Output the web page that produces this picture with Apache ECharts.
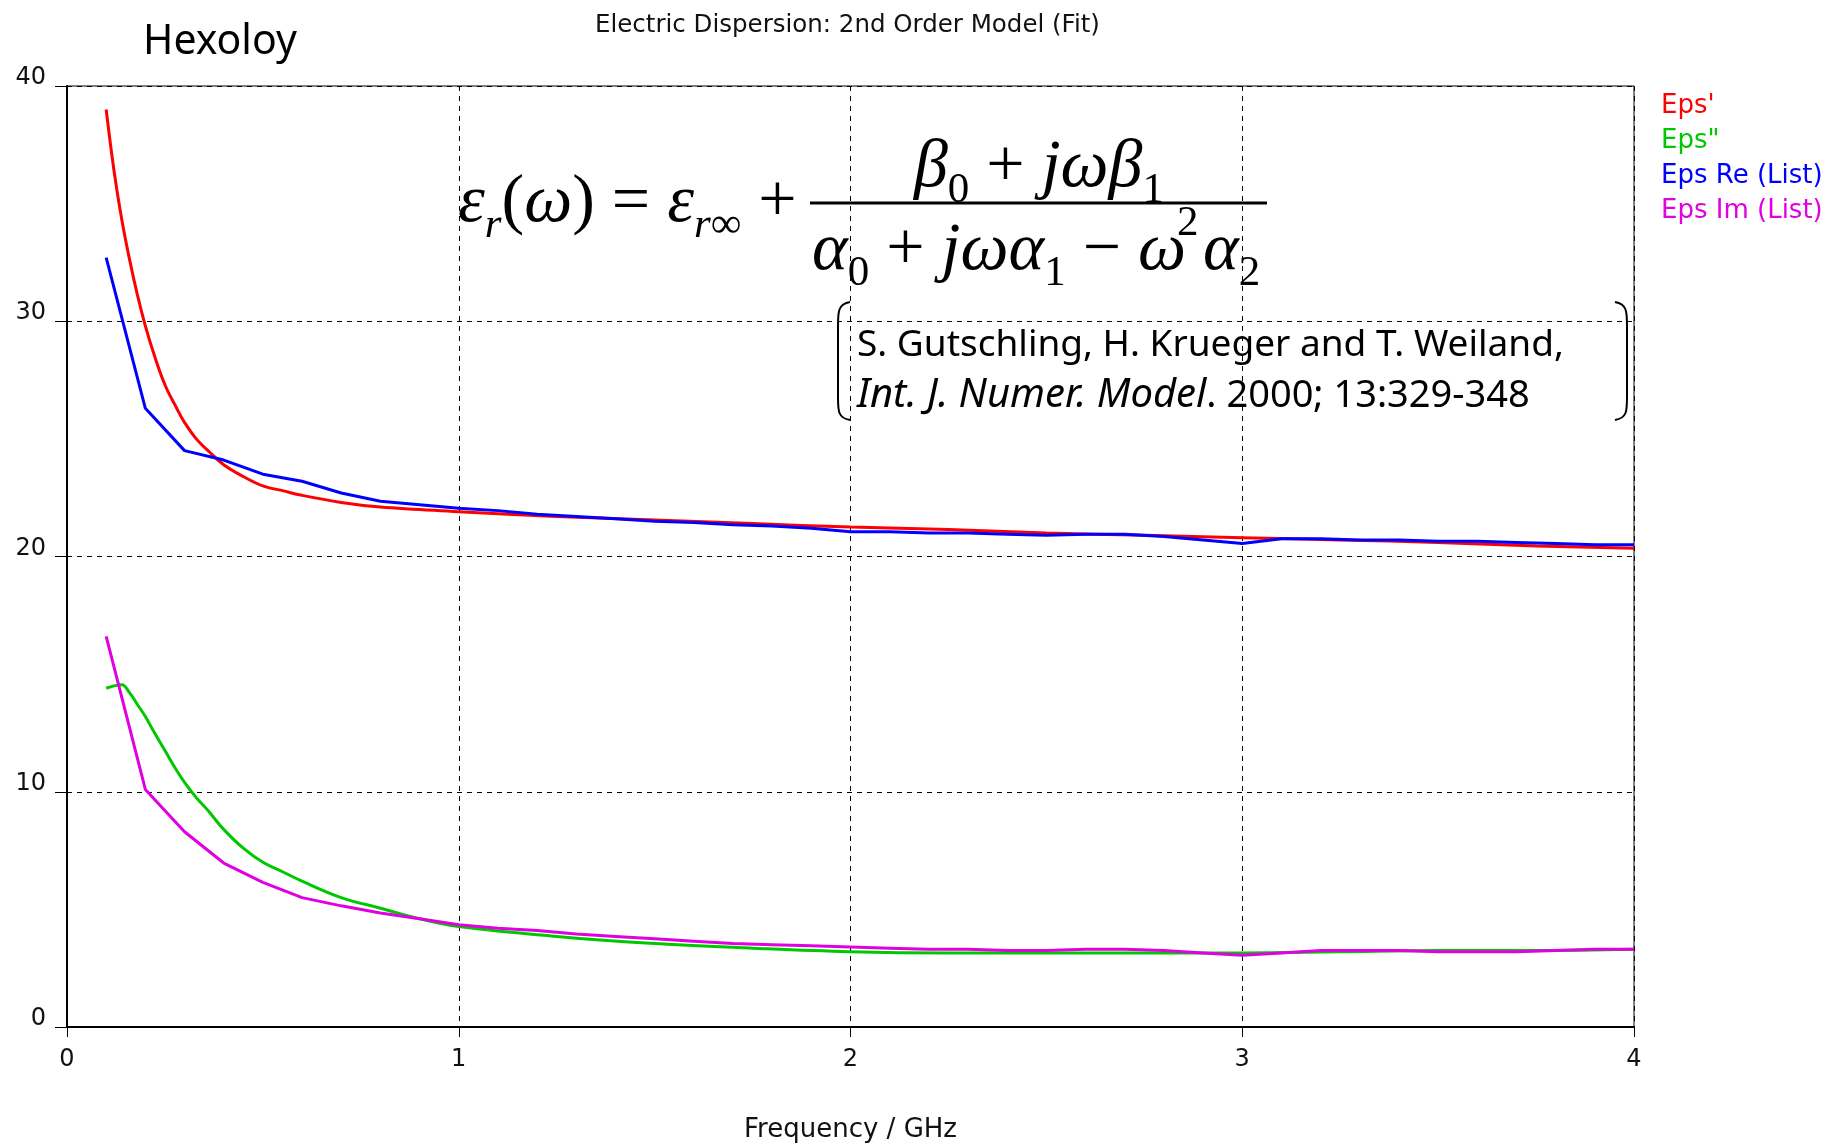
<!DOCTYPE html>
<html>
<head>
<meta charset="utf-8">
<title>Hexoloy - Electric Dispersion</title>
<script src="https://cdn.jsdelivr.net/npm/echarts@6/dist/echarts.min.js"></script>
<style>
  html, body { margin: 0; padding: 0; background: #fff; }
  #chart { width: 1840px; height: 1148px; }
</style>
</head>
<body>
<div id="chart"></div>
<script>
// fitted model curves (GHz)
const freqFit = [0.10, 0.12, 0.14, 0.16, 0.18, 0.20, 0.22, 0.25, 0.28, 0.30, 0.33, 0.36, 0.40, 0.45, 0.50,
  0.55, 0.60, 0.70, 0.80, 0.90, 1.00, 1.25, 1.50, 1.75, 2.00, 2.25, 2.50, 2.75, 3.00, 3.25, 3.50, 3.75, 4.00];
const epsReal = [39.0, 36.4, 34.3, 32.6, 31.1, 29.8, 28.7, 27.3, 26.3, 25.7, 25.0, 24.5, 23.9, 23.4, 23.0,
  22.8, 22.6, 22.3, 22.1, 22.0, 21.9, 21.7, 21.55, 21.4, 21.25, 21.15, 21.0, 20.9, 20.8, 20.7, 20.6, 20.45, 20.35];
const epsImag = [14.4, 14.5, 14.55, 14.2, 13.7, 13.2, 12.6, 11.75, 10.9, 10.4, 9.75, 9.2, 8.4, 7.6, 7.0,
  6.6, 6.2, 5.5, 5.05, 4.6, 4.27, 3.85, 3.55, 3.35, 3.2, 3.15, 3.15, 3.15, 3.15, 3.2, 3.25, 3.25, 3.3];

// measured list data (GHz)
const freqList = [0.1, 0.2, 0.3, 0.4, 0.5, 0.6, 0.7, 0.8, 0.9, 1.0, 1.1, 1.2, 1.3, 1.4, 1.5, 1.6, 1.7, 1.8, 1.9, 2.0,
  2.1, 2.2, 2.3, 2.4, 2.5, 2.6, 2.7, 2.8, 2.9, 3.0, 3.1, 3.2, 3.3, 3.4, 3.5, 3.6, 3.7, 3.8, 3.9, 4.0];
const epsReList = [32.7, 26.3, 24.5, 24.1, 23.5, 23.2, 22.7, 22.35, 22.2, 22.05, 21.95, 21.8, 21.7, 21.6, 21.5,
  21.45, 21.35, 21.3, 21.2, 21.05, 21.05, 21.0, 21.0, 20.95, 20.9, 20.95, 20.95, 20.85, 20.7, 20.55,
  20.75, 20.75, 20.7, 20.7, 20.65, 20.65, 20.6, 20.55, 20.5, 20.5];
const epsImList = [16.6, 10.1, 8.3, 6.97, 6.15, 5.5, 5.15, 4.85, 4.6, 4.35, 4.2, 4.1, 3.95, 3.85, 3.75,
  3.65, 3.55, 3.5, 3.45, 3.4, 3.35, 3.3, 3.3, 3.25, 3.25, 3.3, 3.3, 3.25, 3.15, 3.05,
  3.15, 3.25, 3.25, 3.25, 3.2, 3.2, 3.2, 3.25, 3.3, 3.3];

const seriesNames = ["Eps'", 'Eps"', 'Eps Re (List)', 'Eps Im (List)'];
const seriesColors = ['#ff0000', '#00c800', '#0000ff', '#e100e1'];

const zip = (xs, ys) => xs.map((x, i) => [x, ys[i]]);

const chart = echarts.init(document.getElementById('chart'), null, { renderer: 'canvas' });

const uiFont = 'DejaVu Sans';
const mathFont = 'Liberation Serif';

function lineSeries(idx, data, smooth) {
  return {
    name: seriesNames[idx],
    type: 'line',
    data: data,
    showSymbol: false,
    symbol: 'none',
    smooth: smooth,
    lineStyle: { color: seriesColors[idx], width: 3 },
    itemStyle: { color: seriesColors[idx] },
    emphasis: { disabled: true }
  };
}

// one side of the bracket round the citation
function bracket(xEdge, xBulge) {
  const st = { stroke: '#000', lineWidth: 2, fill: null };
  return [
    { type: 'bezierCurve', z: 10, style: st,
      shape: { x1: xEdge, y1: 302, cpx1: xBulge, cpy1: 304, cpx2: xBulge, cpy2: 312, x2: xBulge, y2: 326 } },
    { type: 'line', z: 10, style: st, shape: { x1: xBulge, y1: 326, x2: xBulge, y2: 397 } },
    { type: 'bezierCurve', z: 10, style: st,
      shape: { x1: xBulge, y1: 397, cpx1: xBulge, cpy1: 411, cpx2: xBulge, cpy2: 418, x2: xEdge, y2: 420 } }
  ];
}

const mathRich = {
  i: { fontFamily: mathFont, fontStyle: 'italic', fontSize: 68, color: '#000' },
  u: { fontFamily: mathFont, fontSize: 68, color: '#000' },
  gap: { fontFamily: mathFont, fontSize: 68, color: '#000' },
  si: { fontFamily: mathFont, fontStyle: 'italic', fontSize: 43, color: '#000', padding: [46, 0, 0, 0] },
  sn: { fontFamily: mathFont, fontSize: 43, color: '#000', padding: [46, 0, 0, 0] }
};

const option = {
  animation: false,
  backgroundColor: '#fff',
  title: {
    text: 'Electric Dispersion: 2nd Order Model (Fit)',
    left: 590,
    top: 8,
    textStyle: { fontFamily: uiFont, fontSize: 24.5, fontWeight: 'normal', color: '#111' }
  },
  legend: {
    orient: 'vertical',
    left: 1651,
    top: 88,
    icon: 'none',
    itemWidth: 0,
    itemHeight: 26,
    itemGap: 9,
    selectedMode: false,
    textStyle: { fontFamily: uiFont, fontSize: 26 },
    data: seriesNames.map((n, i) => ({ name: n, textStyle: { color: seriesColors[i] } }))
  },
  grid: {
    left: 67, right: 206, top: 86, bottom: 121,
    outerBoundsMode: 'none',
    show: true, borderColor: '#000', borderWidth: 1, backgroundColor: 'transparent'
  },
  xAxis: {
    type: 'value',
    min: 0, max: 4, interval: 1,
    name: 'Frequency / GHz',
    nameLocation: 'middle',
    nameGap: 90,
    nameTextStyle: { fontFamily: uiFont, fontSize: 26, color: '#111' },
    axisLine: { show: true, lineStyle: { color: '#000', width: 2 } },
    axisTick: { show: true, length: 10, lineStyle: { color: '#000' } },
    axisLabel: { fontFamily: uiFont, fontSize: 24, color: '#111', margin: 21 },
    splitLine: { show: true, lineStyle: { color: '#000', width: 1, type: [5, 5] } }
  },
  yAxis: {
    type: 'value',
    min: 0, max: 40, interval: 10,
    axisLine: { show: true, lineStyle: { color: '#000', width: 2 } },
    axisTick: { show: true, length: 12, lineStyle: { color: '#000' } },
    axisLabel: {
      fontFamily: uiFont, fontSize: 24, color: '#111', margin: 21,
      verticalAlign: 'bottom', lineHeight: 16
    },
    splitLine: { show: true, lineStyle: { color: '#000', width: 1, type: [5, 5] } }
  },
  series: [
    lineSeries(0, zip(freqFit, epsReal), 0.4),
    lineSeries(1, zip(freqFit, epsImag), 0.4),
    lineSeries(2, zip(freqList, epsReList), false),
    lineSeries(3, zip(freqList, epsImList), false)
  ],
  graphic: [
    {
      type: 'text', x: 143, y: 42, z: 10,
      style: { text: 'Hexoloy', fontFamily: 'Noto Sans', fontSize: 41, fill: '#000', verticalAlign: 'middle' }
    },
    // formula
    {
      type: 'text', x: 458, y: 203, z: 10,
      style: {
        text: '{i|ε}{si|r}{u|(}{i|ω}{u|) = }{i|ε}{si|r}{sn|∞}{u| +}',
        verticalAlign: 'middle', rich: mathRich
      }
    },
    {
      type: 'text', x: 914, y: 168, z: 10,
      style: {
        text: '{i|β}{sn|0}{u| + }{i|jωβ}{sn|1}',
        verticalAlign: 'middle', rich: mathRich
      }
    },
    {
      type: 'text', x: 812, y: 251, z: 10,
      style: {
        text: '{i|α}{sn|0}{u| + }{i|jωα}{sn|1}{u| − }{i|ω}{gap| }{i|α}{sn|2}',
        verticalAlign: 'middle', rich: mathRich
      }
    },
    {
      type: 'text', x: 1177, y: 224, z: 10,
      style: { text: '2', fontFamily: mathFont, fontSize: 43, fill: '#000', verticalAlign: 'middle' }
    },
    {
      type: 'line', z: 10,
      shape: { x1: 810, y1: 203, x2: 1267, y2: 203 },
      style: { stroke: '#000', lineWidth: 3 }
    },
    // citation
    ...bracket(850, 838),
    ...bracket(1615, 1627),
    {
      type: 'text', x: 857, y: 345, z: 10,
      style: {
        text: 'S. Gutschling, H. Krueger and T. Weiland,',
        fontFamily: 'Noto Sans', fontSize: 37, fill: '#000', verticalAlign: 'middle'
      }
    },
    {
      type: 'text', x: 857, y: 396, z: 10,
      style: {
        text: '{it|Int. J. Numer. Model}{n|. 2000; 13:329-348}',
        verticalAlign: 'middle',
        rich: {
          it: { fontFamily: 'Noto Sans', fontStyle: 'italic', fontSize: 40, color: '#000' },
          n: { fontFamily: 'Noto Sans', fontSize: 38, color: '#000' }
        }
      }
    }
  ]
};

chart.setOption(option);
</script>
</body>
</html>
